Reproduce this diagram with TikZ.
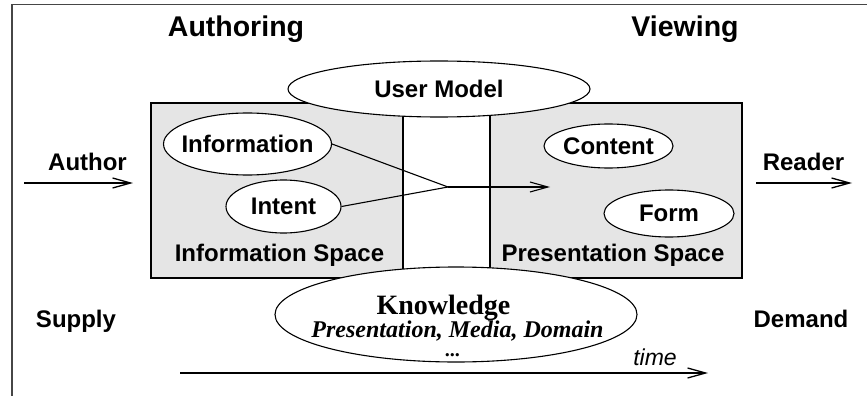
\documentclass[tikz,border=0pt]{standalone}
\usepackage{fontspec}
\setmainfont{Liberation Serif}
\setsansfont{Liberation Sans}
\definecolor{panelgray}{RGB}{229,229,229}
\definecolor{framegray}{RGB}{70,70,70}
\tikzset{every picture/.style={/utils/exec={\sffamily\bfseries}}}
\usetikzlibrary{shapes.geometric}
\usetikzlibrary{arrows.meta}
\tikzset{
  bubble/.style={draw, ellipse, fill=white, inner sep=0pt, line width=1.1pt},
  panel/.style={draw, fill=panelgray, inner sep=0pt, line width=1.1pt,
    minimum width=252pt, minimum height=175pt},
  inlbl/.style={font=\fontsize{24}{27}\selectfont, inner sep=0pt},
  lbl/.style={font=\fontsize{24}{27}\selectfont, inner sep=0pt, anchor=base},
  headline/.style={font=\fontsize{28.5}{31}\selectfont, inner sep=0pt, anchor=base},
  flow/.style={line width=1.3pt, -{Straight Barb[length=18pt,width=10pt]}}
}

\begin{document}
\begin{tikzpicture}[x=1pt, y=-1pt]

  \useasboundingbox (0,0) rectangle (867,396);
  \draw [framegray, line width=1.6pt] (12,396) -- (12,4.5) -- (867,4.5);

  \node [headline] (authoring) at (236,37) {Authoring};
  \node [headline] (viewing) at (685,37) {Viewing};

  % the two spaces
  \node [panel] (infospace) at (277,190.5) {};
  \node [panel] (presspace) at (616,190.5) {};
  \node [lbl] (infolabel) at (279.5,261) {Information Space};
  \node [lbl] (preslabel) at (613,261) {Presentation Space};

  % bubbles
  \node [bubble, minimum width=302pt, minimum height=56pt,
    label={[inlbl]center:User Model}] (usermodel) at (439,89) {};
  \node [bubble, minimum width=168pt, minimum height=62pt,
    label={[inlbl]center:Information}] (info) at (247.5,144) {};
  \node [bubble, minimum width=115pt, minimum height=53pt,
    label={[inlbl]center:Intent}] (intent) at (283.5,206.5) {};
  \node [bubble, minimum width=129pt, minimum height=44pt,
    label={[inlbl]center:Content}] (content) at (608.5,146) {};
  \node [bubble, minimum width=130pt, minimum height=47pt,
    label={[inlbl]center:Form}] (form) at (669,213.5) {};

  % knowledge
  \node [bubble, minimum width=362pt, minimum height=95pt] (knowledge) at (456,314.5) {};
  \node [anchor=base, inner sep=0pt, font=\rmfamily\bfseries\fontsize{28}{30}\selectfont]
    (knowtitle) at (443.5,314) {Knowledge};
  \node [anchor=base, inner sep=0pt, font=\rmfamily\bfseries\itshape\fontsize{24}{26}\selectfont]
    (knowkinds) at (457.5,337) {Presentation, Media, Domain};
  \node [anchor=base, inner sep=0pt, font=\rmfamily\bfseries\itshape\fontsize{20}{22}\selectfont]
    (knowdots) at (453,356) {...};

  % mapping from authoring to viewing
  \coordinate (join) at (448,187);
  \coordinate (joinend) at (550,187);
  \draw [line width=1.1pt] (info.east) -- (join);
  \draw [line width=1.1pt] (intent.east) -- (join);
  \draw [flow, line width=1.1pt] (join) -- (joinend);

  % sides
  \node [lbl] (author) at (87.5,170) {Author};
  \node [lbl] (reader) at (803.5,170) {Reader};
  \node [lbl] (supply) at (76,327) {Supply};
  \node [lbl] (demand) at (801,327) {Demand};

  \coordinate (authorin) at (24,183);
  \coordinate (authorout) at (133,183);
  \coordinate (readerin) at (756,183);
  \coordinate (readerout) at (852,183);
  \draw [flow] (authorin) -- (authorout);
  \draw [flow] (readerin) -- (readerout);

  % time
  \node [lbl, font=\mdseries\itshape\fontsize{23}{26}\selectfont] (time) at (655,365) {time};
  \coordinate (timestart) at (180,373);
  \coordinate (timeend) at (708,373);
  \draw [flow] (timestart) -- (timeend);

\end{tikzpicture}
\end{document}
